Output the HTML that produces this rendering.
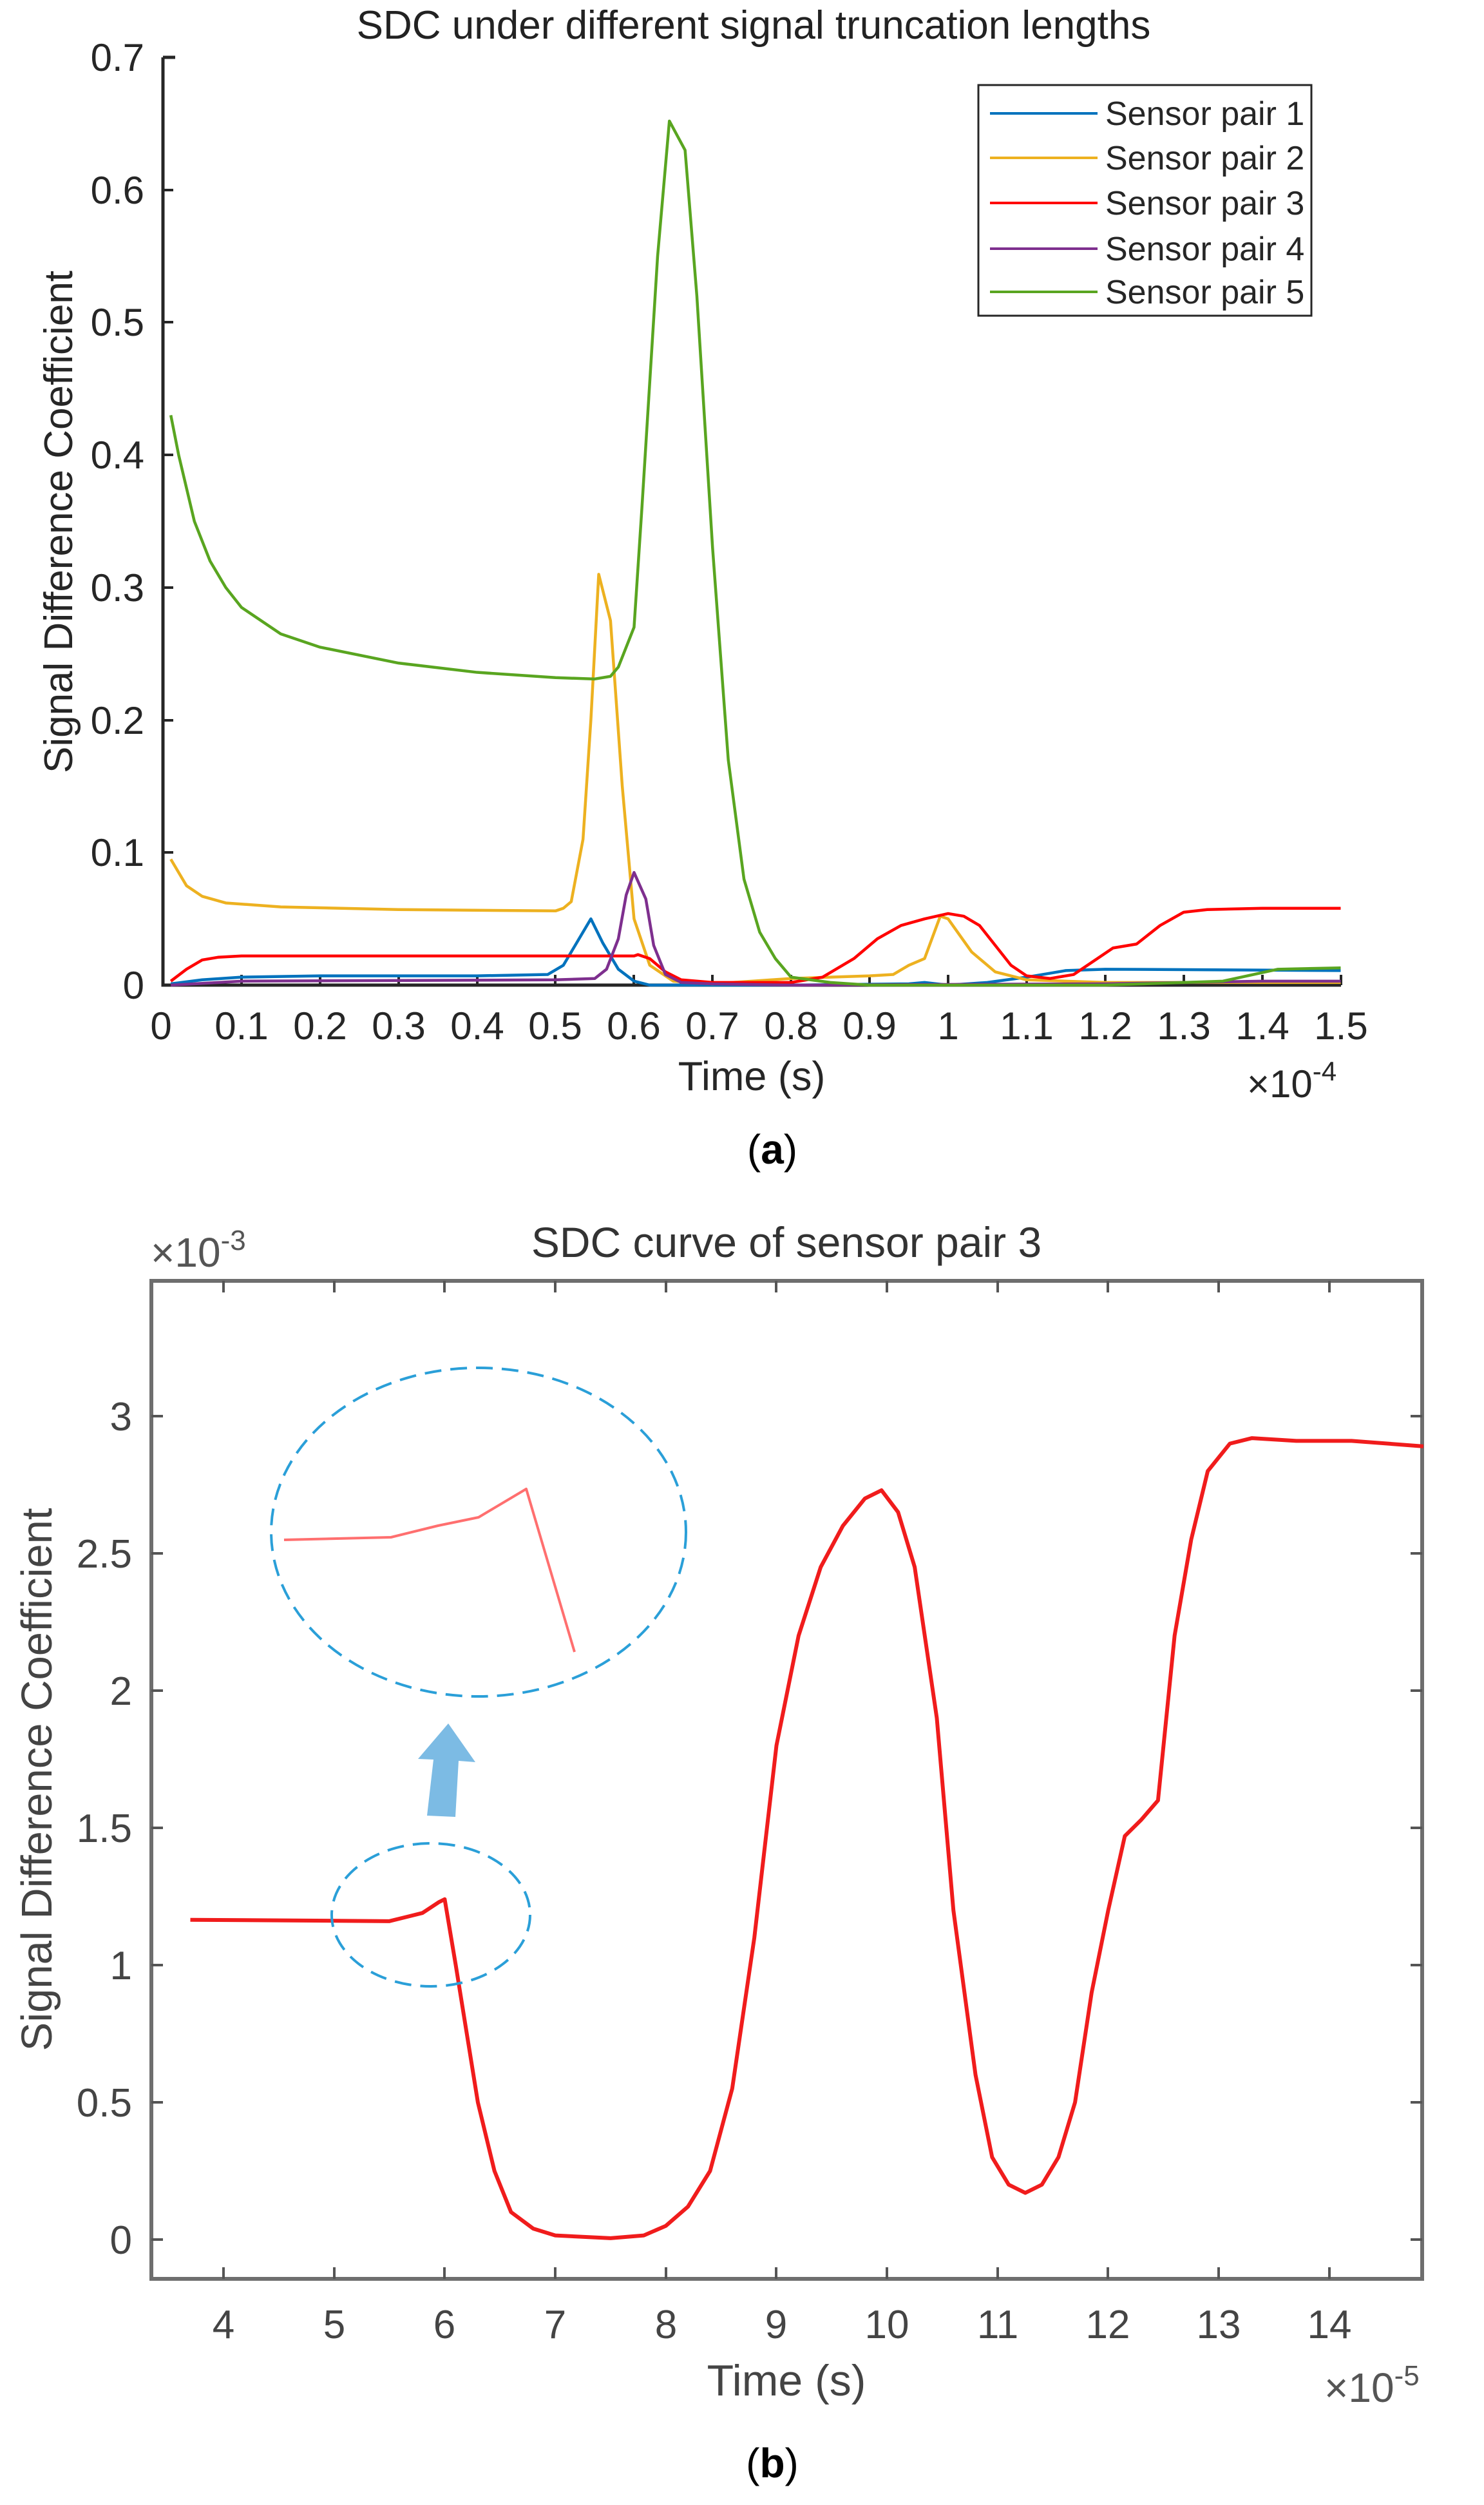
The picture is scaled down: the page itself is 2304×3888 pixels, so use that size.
<!DOCTYPE html>
<html><head><meta charset="utf-8"><style>
html,body{margin:0;padding:0;background:#fff}
svg{display:block}
text{font-family:"Liberation Sans",sans-serif}
</style></head><body>
<svg width="2304" height="3888" viewBox="0 0 2304 3888" xmlns="http://www.w3.org/2000/svg">
<!-- ===== Chart A ===== -->
<text x="1170" y="60" font-size="62" text-anchor="middle" fill="#222">SDC under different signal truncation lengths</text>
<g stroke="#262626" stroke-width="5" fill="none">
<path d="M253,89 V1529 H2082"/>
<path d="M253,89 H272"/>
</g>
<g stroke="#262626" stroke-width="4">
<path d="M375,1529v-16M497,1529v-16M619,1529v-16M741,1529v-16M862,1529v-16M984,1529v-16M1106,1529v-16M1228,1529v-16M1350,1529v-16M1472,1529v-16M1594,1529v-16M1716,1529v-16M1838,1529v-16M1960,1529v-16M2082,1529v-16"/>
<path d="M253,1323h16M253,1118h16M253,912h16M253,706h16M253,500h16M253,295h16"/>
</g>
<g font-size="60" fill="#262626" text-anchor="end">
<text x="224" y="1550">0</text><text x="224" y="1344">0.1</text><text x="224" y="1139">0.2</text><text x="224" y="933">0.3</text><text x="224" y="727">0.4</text><text x="224" y="521">0.5</text><text x="224" y="316">0.6</text><text x="224" y="110">0.7</text>
</g>
<g font-size="60" fill="#262626" text-anchor="middle">
<text x="250" y="1613">0</text><text x="375" y="1613">0.1</text><text x="497" y="1613">0.2</text><text x="619" y="1613">0.3</text><text x="741" y="1613">0.4</text><text x="862" y="1613">0.5</text><text x="984" y="1613">0.6</text><text x="1106" y="1613">0.7</text><text x="1228" y="1613">0.8</text><text x="1350" y="1613">0.9</text><text x="1472" y="1613">1</text><text x="1594" y="1613">1.1</text><text x="1716" y="1613">1.2</text><text x="1838" y="1613">1.3</text><text x="1960" y="1613">1.4</text><text x="2082" y="1613">1.5</text>
</g>
<text x="1167" y="1692" font-size="63" text-anchor="middle" fill="#262626">Time (s)</text>
<text x="1936" y="1703" font-size="60" fill="#262626">×10<tspan font-size="42" dy="-26">-4</tspan></text>
<text transform="translate(112,810) rotate(-90)" font-size="62" text-anchor="middle" fill="#262626">Signal Difference Coefficient</text>

<g fill="none" stroke-width="4.5" stroke-linejoin="round" transform="translate(253,1529) scale(1219,-2057)">
<polyline vector-effect="non-scaling-stroke" stroke="#0072BD" points="0.01,0.001 0.05,0.004 0.1,0.006 0.2,0.007 0.4,0.007 0.49,0.008 0.51,0.015 0.53,0.035 0.545,0.05 0.56,0.032 0.58,0.012 0.6,0.003 0.62,0 0.8,0 0.95,0.001 0.97,0.002 1.0,0 1.05,0.002 1.1,0.006 1.15,0.011 1.2,0.012 1.5,0.011"/>
<polyline vector-effect="non-scaling-stroke" stroke="#EDB120" points="0.01,0.095 0.03,0.075 0.05,0.067 0.08,0.062 0.15,0.059 0.3,0.057 0.5,0.056 0.51,0.058 0.52,0.063 0.535,0.11 0.545,0.2 0.555,0.31 0.57,0.275 0.585,0.15 0.6,0.05 0.62,0.015 0.65,0.003 0.7,0.001 0.8,0.005 0.9,0.007 0.93,0.008 0.95,0.015 0.97,0.02 0.99,0.052 1.0,0.05 1.03,0.025 1.06,0.01 1.1,0.004 1.2,0.002 1.5,0.002"/>
<polyline vector-effect="non-scaling-stroke" stroke="#FF0000" points="0.01,0.003 0.03,0.012 0.05,0.019 0.07,0.021 0.1,0.022 0.2,0.022 0.6,0.022 0.605,0.023 0.62,0.02 0.64,0.01 0.66,0.004 0.7,0.002 0.8,0.002 0.84,0.006 0.88,0.02 0.91,0.035 0.94,0.045 0.97,0.05 1.0,0.054 1.02,0.052 1.04,0.045 1.06,0.03 1.08,0.015 1.1,0.007 1.13,0.005 1.16,0.008 1.19,0.02 1.21,0.028 1.24,0.031 1.27,0.045 1.3,0.055 1.33,0.057 1.4,0.058 1.5,0.058"/>
<polyline vector-effect="non-scaling-stroke" stroke="#7E2F8E" points="0.01,0 0.1,0.003 0.5,0.004 0.55,0.005 0.565,0.012 0.58,0.035 0.59,0.068 0.6,0.085 0.615,0.065 0.625,0.03 0.64,0.008 0.66,0.002 0.7,0.001 0.8,0 1.2,0.001 1.4,0.003 1.5,0.003"/>
<polyline vector-effect="non-scaling-stroke" stroke="#59A520" points="0.01,0.43 0.02,0.40 0.04,0.35 0.06,0.32 0.08,0.30 0.1,0.285 0.15,0.265 0.2,0.255 0.3,0.243 0.4,0.236 0.5,0.232 0.55,0.231 0.57,0.233 0.58,0.24 0.6,0.27 0.61,0.36 0.63,0.55 0.645,0.652 0.665,0.63 0.68,0.52 0.7,0.33 0.72,0.17 0.74,0.08 0.76,0.04 0.78,0.02 0.8,0.006 0.85,0.002 0.9,0 1.0,0 1.2,0 1.35,0.003 1.42,0.012 1.5,0.013"/>
</g>
<!-- legend -->
<rect x="1519" y="132" width="517" height="358" fill="#fff" stroke="#262626" stroke-width="3"/>
<g stroke-width="4">
<line x1="1537" y1="176" x2="1704" y2="176" stroke="#0072BD"/>
<line x1="1537" y1="245" x2="1704" y2="245" stroke="#EDB120"/>
<line x1="1537" y1="315" x2="1704" y2="315" stroke="#FF0000"/>
<line x1="1537" y1="386" x2="1704" y2="386" stroke="#7E2F8E"/>
<line x1="1537" y1="453" x2="1704" y2="453" stroke="#59A520"/>
</g>
<g font-size="52" fill="#262626">
<text x="1716" y="194">Sensor pair 1</text><text x="1716" y="263">Sensor pair 2</text><text x="1716" y="333">Sensor pair 3</text><text x="1716" y="404">Sensor pair 4</text><text x="1716" y="471">Sensor pair 5</text>
</g>
<text x="1199" y="1806" font-size="64" text-anchor="middle" font-family="Liberation Serif,serif" fill="#000">(<tspan font-weight="bold">a</tspan>)</text>

<!-- ===== Chart B ===== -->
<text x="1221" y="1951" font-size="66" text-anchor="middle" fill="#333">SDC curve of sensor pair 3</text>
<text x="234" y="1966" font-size="64" fill="#555">×10<tspan font-size="44" dy="-26">-3</tspan></text>
<rect x="235" y="1988" width="1973" height="1549" fill="none" stroke="#6e6e6e" stroke-width="6"/>
<g stroke="#555" stroke-width="4">
<path d="M347,3537v-18M519,3537v-18M690,3537v-18M862,3537v-18M1034,3537v-18M1205,3537v-18M1377,3537v-18M1549,3537v-18M1720,3537v-18M1892,3537v-18M2064,3537v-18"/>
<path d="M347,1988v18M519,1988v18M690,1988v18M862,1988v18M1034,1988v18M1205,1988v18M1377,1988v18M1549,1988v18M1720,1988v18M1892,1988v18M2064,1988v18"/>
<path d="M235,3476h18M235,3263h18M235,3050h18M235,2837h18M235,2624h18M235,2411h18M235,2198h18"/>
<path d="M2208,3476h-18M2208,3263h-18M2208,3050h-18M2208,2837h-18M2208,2624h-18M2208,2411h-18M2208,2198h-18"/>
</g>
<g font-size="62" fill="#444" text-anchor="end">
<text x="205" y="3498">0</text><text x="205" y="3285">0.5</text><text x="205" y="3072">1</text><text x="205" y="2859">1.5</text><text x="205" y="2646">2</text><text x="205" y="2433">2.5</text><text x="205" y="2220">3</text>
</g>
<g font-size="62" fill="#444" text-anchor="middle">
<text x="347" y="3629">4</text><text x="519" y="3629">5</text><text x="690" y="3629">6</text><text x="862" y="3629">7</text><text x="1034" y="3629">8</text><text x="1205" y="3629">9</text><text x="1377" y="3629">10</text><text x="1549" y="3629">11</text><text x="1720" y="3629">12</text><text x="1892" y="3629">13</text><text x="2064" y="3629">14</text>
</g>
<text x="1221" y="3718" font-size="68" text-anchor="middle" fill="#444">Time (s)</text>
<text x="2056" y="3728" font-size="64" fill="#555">×10<tspan font-size="44" dy="-26">-5</tspan></text>
<text transform="translate(80,2762) rotate(-90)" font-size="67" text-anchor="middle" fill="#444">Signal Difference Coefficient</text>

<g transform="translate(347,3476) scale(171.7,-426)">
<polyline vector-effect="non-scaling-stroke" fill="none" stroke="#f01c1c" stroke-width="6" stroke-linejoin="round" points="-0.3,1.165 1.5,1.16 1.8,1.19 1.95,1.23 2.0,1.24 2.1,1.0 2.3,0.5 2.45,0.25 2.6,0.1 2.8,0.04 3.0,0.015 3.5,0.005 3.8,0.015 4.0,0.05 4.2,0.12 4.4,0.25 4.6,0.55 4.8,1.1 5.0,1.8 5.2,2.2 5.4,2.45 5.6,2.6 5.8,2.7 5.95,2.73 6.1,2.65 6.25,2.45 6.45,1.9 6.6,1.2 6.8,0.6 6.95,0.3 7.1,0.2 7.25,0.17 7.4,0.2 7.55,0.3 7.7,0.5 7.85,0.9 8.0,1.2 8.15,1.47 8.3,1.53 8.45,1.6 8.6,2.2 8.75,2.55 8.9,2.8 9.1,2.9 9.3,2.92 9.7,2.91 10.2,2.91 10.85,2.89"/>
</g>
<!-- ellipses & inset -->
<ellipse cx="669" cy="2972" rx="154" ry="111" fill="none" stroke="#2a9fd8" stroke-width="4" stroke-dasharray="26,14"/>
<ellipse cx="743" cy="2378" rx="322" ry="255" fill="none" stroke="#2a9fd8" stroke-width="4" stroke-dasharray="26,14"/>
<polyline points="441,2390 607,2386 680,2368 743,2355 817,2311 892,2564" fill="none" stroke="#ff6f6f" stroke-width="4" stroke-linejoin="round"/>
<polygon points="663,2818 707,2820 712,2733 738,2735 696,2675 649,2730 673,2731" fill="#7cbbe4"/>
<text x="1199" y="3845" font-size="64" text-anchor="middle" font-family="Liberation Serif,serif" fill="#000">(<tspan font-weight="bold">b</tspan>)</text>
</svg>
</body></html>
